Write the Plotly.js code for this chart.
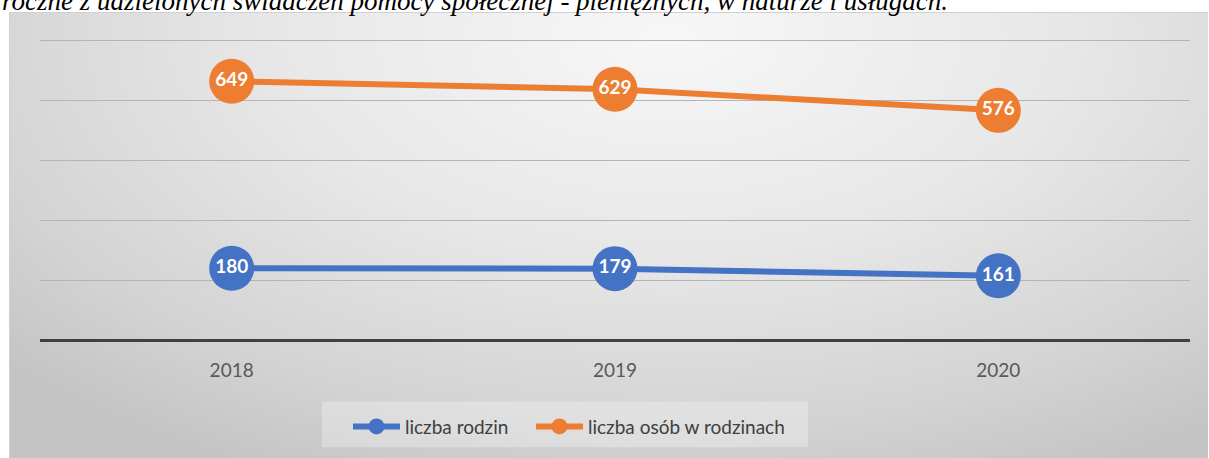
<!DOCTYPE html>
<html>
<head>
<meta charset="utf-8">
<script src="https://cdn.plot.ly/plotly-3.0.1.min.js"></script>
<style>
  html, body { margin: 0; padding: 0; background: #ffffff; width: 1209px; height: 458px; overflow: hidden; }
  #bg { position: absolute; left: 9px; top: 12px; width: 1199px; height: 446px;
        background: radial-gradient(ellipse 75% 110% at 55% 5%, #f7f7f7 0%, #e7e7e7 45%, #d3d3d3 80%, #c4c4c4 100%);
        border-top: 1px solid #d0d0d0; border-left: 1px solid #d0d0d0; box-sizing: border-box; }
  #chart { position: absolute; left: 0; top: 0; width: 1209px; height: 458px; }
</style>
</head>
<body>
<div id="bg"></div>
<div id="chart"></div>
<script>
const years = ['2018', '2019', '2020'];
const liczbaRodzin = [180, 179, 161];
const liczbaOsob = [649, 629, 576];
const seriesNames = ['liczba rodzin', 'liczba osób w rodzinach'];
const titleText = 'roczne z udzielonych świadczeń pomocy społecznej - pieniężnych, w naturze i usługach.';

function series(name, values, color, legendId) {
  return {
    type: 'scatter',
    mode: 'lines+markers+text',
    name: name,
    legend: legendId,
    x: years,
    y: values,
    text: values.map(String),
    textposition: 'middle center',
    textfont: { family: 'Lato, "Open Sans", sans-serif', size: 19, color: '#ffffff', weight: 'bold' },
    line: { color: color, width: 6 },
    marker: { color: color, size: 45 },
    cliponaxis: false,
    hoverinfo: 'skip'
  };
}

const data = [
  series(seriesNames[0], liczbaRodzin, '#4472C4', 'legend'),
  series(seriesNames[1], liczbaOsob, '#ED7D31', 'legend2')
];

const PH = 305; // plot height in px (for paper-coordinate placement of decorations)
const legendStyle = {
  orientation: 'h',
  yanchor: 'top',
  xanchor: 'left',
  y: -(410 - 342) / PH,
  bgcolor: 'rgba(0,0,0,0)',
  font: { family: 'Lato, "Open Sans", sans-serif', size: 19, color: '#404040' },
  itemwidth: 47
};

const layout = {
  width: 1209,
  height: 458,
  margin: { l: 40, r: 19, t: 37, b: 116 },
  paper_bgcolor: 'rgba(0,0,0,0)',
  plot_bgcolor: 'rgba(0,0,0,0)',
  showlegend: true,
  legend: Object.assign({}, legendStyle, { x: (348 - 40) / 1150 }),
  legend2: Object.assign({}, legendStyle, { x: (531 - 40) / 1150 }),
  shapes: [{
    type: 'rect', xref: 'paper', yref: 'paper',
    x0: (322 - 40) / 1150, x1: (808 - 40) / 1150,
    y0: -(404 - 342) / PH, y1: -(450 - 342) / PH,
    fillcolor: 'rgba(255,255,255,0.28)', line: { width: 0 }, layer: 'below'
  }],
  xaxis: {
    type: 'category',
    range: [-0.5, 2.5],
    showgrid: false,
    zeroline: false,
    showline: false,
    ticks: '',
    tickfont: { family: 'Lato, "Open Sans", sans-serif', size: 19, color: '#595959' },
    ticklabelstandoff: 17
  },
  yaxis: {
    range: [0, 760],
    tickvals: [0, 150, 300, 450, 600, 750],
    showticklabels: false,
    showgrid: true,
    gridcolor: '#b4b4b4',
    gridwidth: 1,
    zeroline: true,
    zerolinecolor: '#404040',
    zerolinewidth: 3,
    showline: false
  },
  annotations: [{
    text: '<i>' + titleText + '</i>',
    xref: 'paper', yref: 'paper',
    x: -40 / 1150, xanchor: 'left',
    y: (342 - 18) / PH, yanchor: 'bottom',
    showarrow: false,
    font: { family: '"Liberation Serif", "DejaVu Serif", serif', size: 27, color: '#000000' }
  }]
};

Plotly.newPlot('chart', data, layout, { displayModeBar: false, staticPlot: true });
</script>
</body>
</html>
